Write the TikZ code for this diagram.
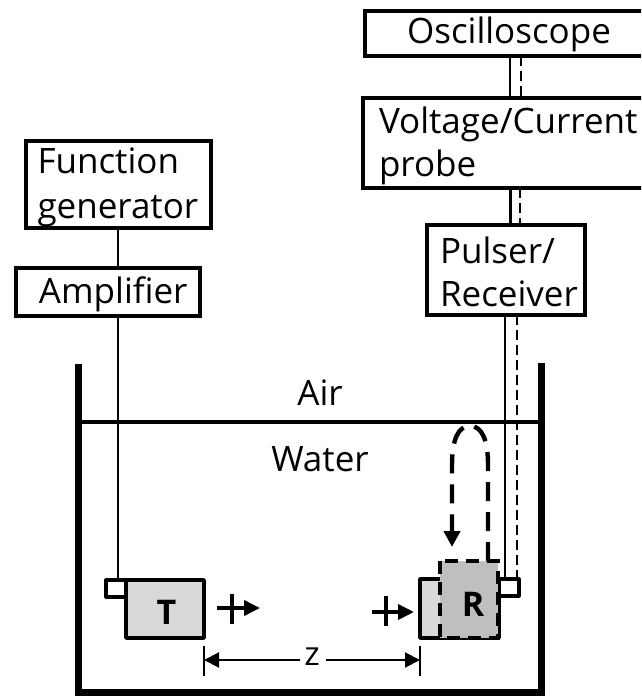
\documentclass[tikz,border=0pt]{standalone}
\usepackage{fontspec}
\setmainfont{Open Sans}
\usetikzlibrary{arrows.meta,calc}
\newcommand{\dnby}[2]{\raisebox{-#1}[\height][\depth]{#2}}
\tikzset{
  box/.style={draw=black,line width=3.4pt,fill=white,rectangle,anchor=north west,inner sep=0pt,outer sep=0pt,font=\fontsize{35}{43}\selectfont,align=left},
  wire/.style={draw=black,line width=2.2pt},
  dwire/.style={draw=black,line width=2.2pt,dash pattern=on 10pt off 5pt},
  wall/.style={draw=black,line width=7pt},
  stub/.style={draw=black,fill=white,line width=3.2pt,line join=round,rectangle,anchor=north west,inner sep=0pt,outer sep=0pt},
  txt/.style={font=\fontsize{35}{42}\selectfont,inner sep=0pt},
  bold/.style={font=\fontsize{34}{40}\selectfont\bfseries,inner sep=0pt},
  part/.style={draw=black,fill=black!15,line width=3.6pt,line join=round,rectangle,anchor=north west,inner sep=0pt,outer sep=0pt},
  arr/.style={-{Triangle[length=16pt,width=15pt]},line width=3.6pt,draw=black},
  bar/.style={draw=black,line width=3.6pt},
  thin/.style={draw=black,line width=2pt},
}
\begin{document}
\begin{tikzpicture}[x=1pt,y=-1pt]
\useasboundingbox (0,0) rectangle (641,698);
\clip (0,0) rectangle (641,698);
\node[box,minimum width=288pt,minimum height=45pt,align=center] (osc) at (365,11) {\dnby{1pt}{Oscilloscope}};
\node[box,minimum width=290pt,minimum height=90pt,text width=284pt] (probe) at (363,98) {\hspace*{13pt}\dnby{3pt}{Voltage/Current}\\\hspace*{13pt}\dnby{3pt}{probe}};
\node[box,minimum width=158pt,minimum height=90pt,text width=152pt] (pulser) at (427,225) {\hspace*{10pt}\dnby{2pt}{Pulser/}\\\hspace*{10pt}\dnby{2pt}{Receiver}};
\node[box,minimum width=185pt,minimum height=87pt,text width=180pt] (fg) at (26,141) {\hspace*{9pt}\dnby{2pt}{Function}\\\hspace*{9pt}\dnby{4pt}{generator}};
\node[box,minimum width=184pt,minimum height=48pt,text width=178pt] (amp) at (16,268) {\hspace*{20pt}\dnby{2pt}{Amplifier}};
% tank
\coordinate (tl) at (78,364);
\coordinate (tr) at (541,363);
\coordinate (bl) at (78,692);
\coordinate (br) at (541,692);
\draw[wall,line join=miter] (tl) -- (bl) -- (br) -- (tr);
\coordinate (wl) at (78,422);
\coordinate (wr) at (541,422);
\draw[black,line width=4pt] (wl) -- (wr);
\node[txt] (air) at (320,393) {Air};
\node[txt] (water) at (320,459) {Water};
% transducers
\node[stub,minimum width=20pt,minimum height=17pt] (ts) at (106,580) {};
\node[part,minimum width=78pt,minimum height=58pt,bold] (T) at (126,580) {\dnby{3pt}{\hspace*{3pt}T}};
\node[stub,minimum width=20pt,minimum height=17pt] (rs) at (499,579) {};
\node[part,minimum width=79pt,minimum height=59pt] (Rb) at (420,579) {};
\node[part,fill=black!25,draw=none,minimum width=58pt,minimum height=77pt] (R) at (440,561) {};
\draw[black,line width=4pt,dash pattern=on 13pt off 8pt] (R.north west) rectangle (R.south east);
\node[bold] (Rl) at (473,604) {R};
% connectors
\draw[wire] (510,0 |- osc.south) -- (510,0 |- probe.north);
\draw[dwire] (521,0 |- osc.south) -- (521,0 |- probe.north);
\draw[wire] (510.5,0 |- probe.south) -- (510.5,0 |- pulser.north);
\draw[dwire] (520,0 |- probe.south) -- (520,0 |- pulser.north);
\draw[wire] (505,0 |- pulser.south) -- (505,0 |- rs.north);
\draw[dwire] (517,0 |- pulser.south) -- (517,0 |- rs.north);
\draw[wire] (118,0 |- fg.south) -- (118,0 |- amp.north);
\draw[wire] (118,0 |- amp.south) -- (118,0 |- ts.north);
% echo
\draw[black,line width=4.4pt,dash pattern=on 19pt off 11pt,-{Triangle[length=16pt,width=16pt]}]
  (488,0 |- R.north) -- (488,465) .. controls (488,440) and (482,426) .. (470,426) .. controls (458,426) and (452,440) .. (452,465) -- (452,547);
% motion arrows
\coordinate (a1) at (217,608); \coordinate (a2) at (260,608);
\draw[arr] (a1) -- (a2);
\coordinate (c1) at (232,594); \coordinate (c2) at (232,624);
\draw[bar] (c1) -- (c2);
\coordinate (b1) at (372,612); \coordinate (b2) at (414,612);
\draw[arr] (b1) -- (b2);
\coordinate (d1) at (386,596); \coordinate (d2) at (386,626);
\draw[bar] (d1) -- (d2);
% dimension
\coordinate (z1) at (204,660); \coordinate (z2) at (420,660);
\coordinate (z1a) at (204,646); \coordinate (z1b) at (204,676);
\coordinate (z2a) at (420,646); \coordinate (z2b) at (420,676);
\draw[thin] (z1a) -- (z1b);
\draw[thin] (z2a) -- (z2b);
\node[txt,font=\fontsize{33}{40}\selectfont] (z) at (312,657) {z};
\coordinate (zl) at (300,660); \coordinate (zr) at (326,660);
\draw[thin,{Triangle[length=15pt,width=15pt]}-] (z1) -- (zl);
\draw[thin,-{Triangle[length=15pt,width=15pt]}] (zr) -- (z2);
\end{tikzpicture}
\end{document}
